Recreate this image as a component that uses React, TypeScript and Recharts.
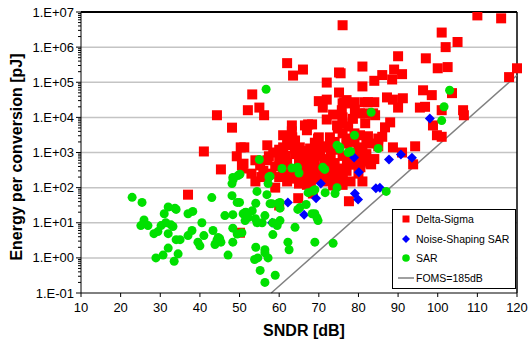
import React from 'react';
import { ScatterChart, Scatter, XAxis, YAxis, ReferenceLine, Legend } from 'recharts';

const FONT = '"Liberation Sans", Arial, sans-serif';

// [SNDR dB, energy pJ]
const deltaSigma: [number, number][] = [
  [76, 4.2e6], [110, 8e6], [116, 6.6e6], [101, 2.6e6], [105, 1.4e6], [102, 1e6],
  [90, 5.5e5], [97, 4.8e5], [81, 2.8e5], [89, 2.3e5], [100, 2.5e5], [102.5, 2.7e5], [120, 2.5e5], [118, 1.4e5],
  [86, 1.6e5], [84, 1.1e5], [88.5, 1.2e5], [91, 1.7e5], [75.5, 1.8e5], [81, 7.6e4], [96.3, 5.9e4], [98.5, 4.3e4], [103.6, 4.9e4],
  [77, 3.1e4], [79, 2.7e4], [82.4, 2.7e4], [84, 2.7e4], [87.2, 3.7e4], [88.7, 3.2e4], [91.2, 3.5e4], [90, 1.9e4], [95.5, 1.9e4], [96.8, 2e4], [101, 1.6e4], [106.4, 1.6e4], [106.6, 1.15e4],
  [80.4, 1.3e4], [83.7, 1.3e4], [88, 7.2e3], [86.7, 5.2e3], [86, 2.8e3], [98.8, 5.9e3], [99.8, 3.1e3], [101, 2.8e3], [94.3, 1.5e3], [88.7, 1.4e3], [91, 1e3], [93.8, 4.6e2], [83.2, 4.6e2],
  [62, 3.5e5], [63.5, 1.55e5], [66, 2.3e5], [53.2, 4.5e4], [52.1, 1.6e4], [55, 1.9e4], [56.2, 1.15e4], [44.3, 1.15e4], [48.1, 5.1e3], [41, 1.07e3], [45.3, 3.3e2],
  [50.3, 1.4e3], [51.2, 1.4e3], [49.3, 7.8e2], [51, 4.8e2], [50.8, 3.5e2], [57.4, 7.8e2], [55.2, 4.3e2],
  [72, 9.8e4], [75.1, 5.1e4], [70, 2.9e4], [72, 3.2e4], [71, 1.9e4], [76, 2.5e4], [73.6, 1.2e4], [72, 8.7e3], [76, 1e4],
  [63.2, 5.9e3], [63.2, 4e3], [67.3, 6.3e3], [68.3, 6.3e3], [67, 4.3e3], [61, 3.1e3], [63.3, 2.7e3], [70, 2.7e3], [72.8, 2.7e3], [74.8, 4.8e3], [76, 6.8e3],
  [75.1, 1.9e5], [76.4, 2.7e4], [78.4, 2.5e4], [81.5, 2.7e4], [75.8, 1.6e4], [79.1, 1.66e4], [81.7, 1.3e4], [84.2, 1.15e4], [78.6, 9.1e3],
  [66.5, 5.9e3], [74.6, 5.9e3], [77.4, 5.5e3], [81.7, 6.8e3], [69.8, 2.5e3], [76, 3.5e3], [80.4, 3.1e3], [82.4, 2.9e3], [85, 2.5e3],
  [63.5, 1.8e3], [65.2, 1.4e3], [67.8, 1.3e3], [72.8, 1.4e3], [81, 1.15e3], [83, 1.8e3], [70.3, 8.1e2], [77.1, 7.2e2], [83, 4.9e2], [66, 5.2e2],
  [81, 1.5e2], [77.6, 41], [64.8, 50], [68.5, 68], [73.6, 115], [74.6, 250], [72, 220], [76, 220], [67, 250], [64.5, 180], [72.8, 480], [77.1, 500], [76, 200], [80.5, 380],
  [50.1, 5.2], [50.6, 430], [59, 100], [60, 31], [37, 63],
  [60, 1.2e3], [61.5, 800], [62, 500], [63, 300], [64, 900], [65, 600], [66, 350], [67, 800], [68, 450], [69, 1.1e3], [69, 600], [70, 350], [71, 1.5e3], [71.5, 650], [73, 900], [74, 500], [75, 1.2e3], [76, 800], [77, 1.8e3], [78, 1e3], [78.5, 600], [79, 2e3], [80, 800],
  [59, 400], [58, 250], [57, 600], [60, 200], [62, 150], [66, 200], [68, 150], [70, 180], [71, 280], [73, 280], [75, 350], [77, 300], [79, 450], [80, 1.4e3], [82, 900], [84, 650], [85, 1.5e3], [82, 2e3], [79, 3.5e3], [77, 2.5e3], [74, 2e3], [73, 1.7e3], [69, 1.9e3], [66, 1.1e3], [64, 1.3e3], [62, 2e3], [61, 1.4e3], [60, 600], [58.5, 1e3], [57, 1.6e3], [56, 300], [55.5, 200], [54, 150], [54, 600], [53, 250], [61, 250], [63, 200], [65, 130], [66.5, 280], [69, 250], [72, 150], [78, 150], [80, 250], [81, 550], [76, 120], [74, 160], [67, 120],
  [60.2, 1e3], [62.2, 1.6e3], [64, 2.2e3],
];

const noiseShapingSar: [number, number][] = [
  [98, 9.3e3], [78.9, 720], [87.7, 630], [90.7, 870], [93.5, 710], [80.1, 275], [70.5, 130], [79.1, 68], [79.9, 46],
  [84.4, 96], [85.4, 100], [66.3, 17], [62.2, 38], [58.2, 10], [69.3, 50],
];

const sar: [number, number][] = [
  [56.7, 6.3e4], [103, 5.9e4], [101.6, 2e4], [101, 8.1e3], [83.2, 1.4e4], [79, 3.1e3], [85, 1.3e3], [78, 1.07e3], [75.3, 1.4e3], [74.6, 1.6e3], [75.2, 1.25e3], [77.4, 1e3],
  [71, 380], [71.5, 330], [55, 630], [50.1, 240], [48.3, 195], [57.7, 210], [63.2, 360], [65, 260], [60.7, 350], [64.6, 380],
  [49.6, 220], [48.1, 130], [48.4, 170], [43, 52], [48.1, 59], [49.4, 38], [50, 38], [54.4, 78], [56.9, 63], [54.1, 36], [57.2, 130], [57.4, 200],
  [57.7, 35], [58.2, 35], [60.2, 38], [60.2, 26], [59.8, 36], [65.2, 27], [64.7, 24], [66.8, 33], [67.3, 72], [68.5, 80], [69, 87], [71.6, 72], [74.6, 100], [74.1, 68],
  [69, 18], [69.8, 11.5], [69.5, 14], [68.3, 18], [64, 7.4], [62.2, 2.8], [69, 2.8], [73.6, 2.6], [87, 78],
  [33.7, 26], [37, 18], [38.2, 21], [40.5, 10], [43.3, 6], [44.3, 3.2], [45, 3.5], [45.3, 2.8], [47.1, 1.2], [48.3, 2.8], [48.3, 7], [50.6, 5.2], [49.4, 4.8],
  [50.9, 18], [51.6, 20], [46.3, 16], [48.3, 17], [51.4, 19.5], [53.2, 22], [51.4, 11.5], [52.2, 14], [54, 13], [54.4, 10], [55.7, 10], [56.4, 16], [58.4, 10], [60.2, 11.5], [59.5, 8.3], [58.4, 4.6],
  [54.1, 2], [54.6, 1], [53.8, 0.9], [56.4, 1.7], [57.2, 1], [56.4, 1.4], [55.2, 0.44], [56.4, 0.2], [59, 0.32],
  [22.9, 53], [25.4, 38], [25.9, 12], [25.1, 8.3], [26.9, 8.3], [28.4, 4.9], [29.4, 5.6], [30.2, 8.3], [31, 18], [32, 28], [34, 24], [31.4, 10], [32.7, 8.7], [33.2, 7.8], [32, 4.9], [34, 3.3], [35, 3.3], [37, 4.3],
  [32, 1.9], [30.7, 1.2], [28.9, 1], [33.5, 0.8], [34.5, 1.3],
  [41, 4.3], [44.6, 3.8], [43.8, 2.4], [39.5, 2.8], [40, 2.2], [38, 6], [62.5, 1.7],
];

// FOMS = 185 dB reference line end points [SNDR, pJ]
const fomsLine: [number, number][] = [[58, 0.1], [120, 1.58e5]];

const xTicks = [10, 20, 30, 40, 50, 60, 70, 80, 90, 100, 110, 120];
const decades = [-1, 0, 1, 2, 3, 4, 5, 6, 7];
const minorMultipliers = [1, 2, 3, 4, 5, 6, 7, 8, 9];
const yTicks: number[] = [];
decades.forEach((e) => {
  if (e === 7) { yTicks.push(1e7); return; }
  minorMultipliers.forEach((m) => yTicks.push(m * Math.pow(10, e)));
});

const legendItems = ['Delta-Sigma', 'Noise-Shaping SAR', 'SAR', 'FOMS=185dB'];

const toPts = (arr: [number, number][]) => arr.map(([x, y]) => ({ x, y }));

const fmtExp = (v: number) => {
  const e = Math.round(Math.log10(v));
  return `1.E${e < 0 ? '-' : '+'}${String(Math.abs(e)).padStart(2, '0')}`;
};

const YTick = (props: any) => {
  const { x, y, payload } = props;
  const v = payload.value;
  const lg = Math.log10(v);
  const major = Math.abs(lg - Math.round(lg)) < 1e-6;
  return (
    <g>
      <line x1={x - (major ? 5 : 3)} x2={x} y1={y} y2={y} stroke="#000" strokeWidth={1} />
      {major && (
        <text x={x - 7} y={y} dy={4.5} textAnchor="end" fontSize={13} fill="#000" fontFamily={FONT}>
          {fmtExp(v)}
        </text>
      )}
    </g>
  );
};

const RedSquare = (p: any) => <rect x={p.cx - 5} y={p.cy - 5} width={10} height={10} fill="#ff0000" />;
const BlueDiamond = (p: any) => (
  <polygon points={`${p.cx},${p.cy - 5} ${p.cx + 5},${p.cy} ${p.cx},${p.cy + 5} ${p.cx - 5},${p.cy}`} fill="#0000ff" />
);
const GreenCircle = (p: any) => <circle cx={p.cx} cy={p.cy} r={4.5} fill="#00e000" />;

const legendIcon = (i: number) => {
  if (i === 0) return <rect x={10.5} y={4.5} width={7} height={7} fill="#ff0000" />;
  if (i === 1) return <polygon points="14,4 18,8 14,12 10,8" fill="#0000ff" />;
  if (i === 2) return <circle cx={14} cy={8} r={3.8} fill="#00e000" />;
  return <line x1={6} x2={22} y1={8} y2={8} stroke="#808080" strokeWidth={1.5} />;
};

const rowCenters = [10, 30, 49, 69];

const renderLegend = () => (
  <div
    style={{
      width: 124, height: 80, border: '1px solid #000', background: '#fff', boxSizing: 'border-box',
      position: 'relative', fontFamily: FONT, fontSize: 10.5, color: '#000',
    }}
  >
    {legendItems.map((name, i) => (
      <div key={name} style={{ position: 'absolute', left: -1, top: rowCenters[i] - 9, height: 16, display: 'flex', alignItems: 'center', whiteSpace: 'nowrap' }}>
        <svg width={24} height={16} style={{ display: 'block' }}>{legendIcon(i)}</svg>
        <span>{name}</span>
      </div>
    ))}
  </div>
);

const XLabel = () => (
  <text x={304} y={336} textAnchor="middle" fontSize={16} fontWeight="bold" fill="#000" fontFamily={FONT}>
    SNDR [dB]
  </text>
);
const YLabel = () => (
  <text x={0} y={0} transform="translate(22,157) rotate(-90)" textAnchor="middle" fontSize={16} fontWeight="bold" fill="#000" fontFamily={FONT}>
    Energy per conversion [pJ]
  </text>
);

export default function App() {
  return (
    <div style={{ position: 'absolute', left: 0, top: 0, background: '#fff' }}>
      <ScatterChart width={528} height={345} margin={{ top: 12, right: 11, bottom: 0, left: 0 }}>
        <XAxis
          type="number" dataKey="x" domain={[10, 120]} ticks={xTicks} interval={0} height={52}
          tickSize={4} tickMargin={6} stroke="#000" tick={{ fontSize: 13, fill: '#000', fontFamily: FONT }}
          label={{ content: () => <XLabel /> }}
        />
        <YAxis
          type="number" dataKey="y" scale="log" domain={[0.1, 1e7]} ticks={yTicks} interval={0} width={81}
          tickSize={0} tickMargin={0} tickLine={false} stroke="#000" tick={<YTick />} allowDataOverflow
          label={{ content: () => <YLabel /> }}
        />
        {[1, 10, 100, 1e3, 1e4, 1e5, 1e6].map((v) => (
          <ReferenceLine key={v} y={v} stroke="#c4c4c4" strokeWidth={1.5} />
        ))}
        <ReferenceLine y={1e7} stroke="#000" strokeWidth={2} />
        <ReferenceLine x={120} stroke="#000" strokeWidth={1.5} />
        <ReferenceLine
          segment={fomsLine.map(([x, y]) => ({ x, y }))}
          stroke="#808080" strokeWidth={1.5}
        />
        <Scatter name="Delta-Sigma" data={toPts(deltaSigma)} shape={RedSquare} isAnimationActive={false} />
        <Scatter name="Noise-Shaping SAR" data={toPts(noiseShapingSar)} shape={BlueDiamond} isAnimationActive={false} />
        <Scatter name="SAR" data={toPts(sar)} shape={GreenCircle} isAnimationActive={false} />
        <Legend
          layout="vertical" align="center" verticalAlign="middle" content={renderLegend}
          wrapperStyle={{ left: 392, top: 209, width: 124, height: 80 }}
        />
      </ScatterChart>
    </div>
  );
}
